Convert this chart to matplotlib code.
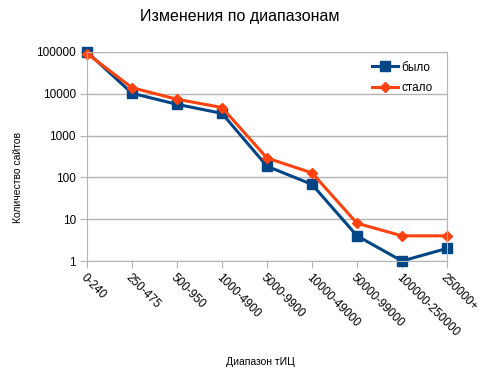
import matplotlib.pyplot as plt
import numpy as np

plt.rcParams['font.family'] = ['Liberation Sans', 'DejaVu Sans']

ranges = ['0-240', '250-475', '500-950', '1000-4900', '5000-9900',
          '10000-49000', '50000-99000', '100000-250000', '250000+']
bylo = [100000, 10300, 5600, 3400, 185, 68, 4, 1, 2]
stalo = [92000, 14000, 7400, 4700, 290, 128, 8, 4, 4]
yticks = [1, 10, 100, 1000, 10000, 100000]

fig = plt.figure(figsize=(4.91, 3.76), dpi=100)
ax = fig.add_axes([87 / 491, 1 - 261 / 376, 360 / 491, 209 / 376])

x = np.arange(len(ranges))
ax.plot(x, bylo, color='#004586', lw=2.2, marker='s', ms=7, label='было', clip_on=False)
ax.plot(x, stalo, color='#ff420e', lw=2.2, marker='D', ms=5.5, label='стало', clip_on=False)

ax.set_yscale('log')
ax.set_ylim(1, 100000)
ax.set_xlim(0, len(ranges) - 1)
ax.set_yticks(yticks)
ax.set_yticklabels([str(v) for v in yticks], fontsize=8.5)
ax.minorticks_off()
ax.set_xticks(x)
ax.set_xticklabels(ranges, fontsize=8.5, rotation=-45, ha='left', va='top',
                   rotation_mode='anchor')
ax.grid(axis='y', color='#b3b3b3', lw=1)
ax.tick_params(color='#b3b3b3', length=5, pad=3)
for s in ax.spines.values():
    s.set_color('#b3b3b3')

# подписи осей - вручную, как в оригинале
fig.text(260 / 491, 1 - 362 / 376, 'Диапазон тИЦ', ha='center', va='center', fontsize=7.5)
fig.text(18 / 491, 1 - 178 / 376, 'Количество сайтов', ha='center', va='center',
         rotation=90, fontsize=7.5)
fig.text(240 / 491, 1 - 17 / 376, 'Изменения по диапазонам', ha='center', va='center',
         fontsize=11.5)

ax.legend(loc='upper right', bbox_to_anchor=(0.99, 1.005), frameon=False,
          fontsize=8.5, handlelength=2.2, handletextpad=0.3, labelspacing=0.7)

fig.savefig('out.png', dpi=100)
